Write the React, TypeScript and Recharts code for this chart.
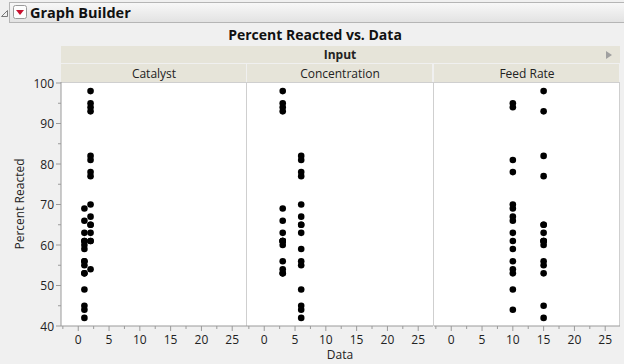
import React from 'react';
import { ScatterChart, Scatter, XAxis, YAxis } from 'recharts';

const feedRate = [10, 15, 10, 15, 10, 15, 10, 15, 10, 15, 10, 15, 10, 15, 10, 15, 10, 15, 10, 15, 10, 15, 10, 15, 10, 15, 10, 15, 10, 15, 10, 15];
const catalyst = [1, 1, 2, 2, 1, 1, 2, 2, 1, 1, 2, 2, 1, 1, 2, 2, 1, 1, 2, 2, 1, 1, 2, 2, 1, 1, 2, 2, 1, 1, 2, 2];
const concentration = [3, 3, 3, 3, 3, 3, 3, 3, 3, 3, 3, 3, 3, 3, 3, 3, 6, 6, 6, 6, 6, 6, 6, 6, 6, 6, 6, 6, 6, 6, 6, 6];
const percentReacted = [61, 53, 63, 61, 53, 56, 54, 61, 69, 61, 94, 93, 66, 60, 95, 98, 56, 63, 70, 65, 59, 55, 67, 65, 44, 45, 78, 77, 49, 42, 81, 82];

const panelNames = ['Catalyst', 'Concentration', 'Feed Rate'];
const xTicks = [-2.5, 0, 2.5, 5, 7.5, 10, 12.5, 15, 17.5, 20, 22.5, 25];
const xLabelTicks = [0, 5, 10, 15, 20, 25];
const yTicks = [40, 45, 50, 55, 60, 65, 70, 75, 80, 85, 90, 95, 100];
const yLabelTicks = [40, 50, 60, 70, 80, 90, 100];

const title = 'Percent Reacted vs. Data';
const groupLabel = 'Input';
const xLabel = 'Data';
const yLabel = 'Percent Reacted';

const FONT = "'Segoe UI', 'Open Sans', 'Noto Sans', sans-serif";
const TEXT = '#222';
const AXIS = '#9a9a9a';
const STRIP = '#e6e4d9';
const BORDER = '#cfcfcf';

const series = [catalyst, concentration, feedRate].map((xs) =>
  xs.map((x, i) => ({ x, y: percentReacted[i] }))
);

const TOP_PAD = 12;
const CHART_TOP = 82 - TOP_PAD;
const CHART_H = 282 + TOP_PAD;
const X_AXIS_H = 38;
const Y_AXIS_W = 61;
const panelBoxes = [
  { left: 0, width: 247, yAxis: true },
  { left: 247, width: 186, yAxis: false },
  { left: 434, width: 186, yAxis: false },
];
const plotRects = [
  { x: 61, w: 186 },
  { x: 247, w: 186 },
  { x: 434, w: 186 },
];

const Dot = (p: any) => <circle cx={p.cx} cy={p.cy} r={3.3} fill="#000" />;

const XTick = (p: any) => {
  const { x, y, payload } = p;
  const v = payload.value;
  const major = xLabelTicks.includes(v);
  return (
    <g>
      <line x1={x} x2={x} y1={y} y2={y + (major ? 5 : 3)} stroke={AXIS} />
      {major && (
        <text x={x} y={y + 18} textAnchor="middle" fontSize={12} fill={TEXT} fontFamily={FONT}>
          {v}
        </text>
      )}
    </g>
  );
};

const YTick = (p: any) => {
  const { x, y, payload } = p;
  const v = payload.value;
  const major = yLabelTicks.includes(v);
  return (
    <g>
      <line x1={x - (major ? 5 : 3)} x2={x} y1={y} y2={y} stroke={AXIS} />
      {major && (
        <text x={x - 7} y={y + 4.5} textAnchor="end" fontSize={12} fill={TEXT} fontFamily={FONT}>
          {v}
        </text>
      )}
    </g>
  );
};

export default function App() {
  return (
    <div style={{ position: 'absolute', left: 0, top: 0, width: 624, height: 364, background: '#f0f0f0', overflow: 'hidden', fontFamily: FONT }}>
      <svg width={624} height={364} style={{ position: 'absolute', left: 0, top: 0 }}>
        <defs>
          <linearGradient id="hdr" x1="0" y1="0" x2="0" y2="1">
            <stop offset="0" stopColor="#f8f8f8" />
            <stop offset="1" stopColor="#e2e2e2" />
          </linearGradient>
        </defs>
        <rect x={9.5} y={2.5} width={620} height={20} fill="url(#hdr)" stroke="#b5b5b5" />
        <path d="M1.5 16.5 L7.5 10.5 L7.5 16.5 Z" fill="none" stroke="#7a7a7a" />
        <rect x={13.5} y={5.5} width={13} height={13} rx={2} fill="#fdfdfd" stroke="#9a9a9a" />
        <path d="M16 10 L24 10 L20 15 Z" fill="#c8102e" />
        <text x={30} y={17.5} fontWeight="bold" fontSize={14.5} fill="#111" fontFamily={FONT}>Graph Builder</text>
        <text x={315} y={39.5} textAnchor="middle" fontWeight="bold" fontSize={14} fill="#111" fontFamily={FONT}>{title}</text>

        <rect x={61} y={46} width={559} height={17} fill={STRIP} />
        <text x={340} y={59} textAnchor="middle" fontWeight="bold" fontSize={12} fill={TEXT} fontFamily={FONT}>{groupLabel}</text>
        <path d="M606 51 L612 55 L606 59 Z" fill="#a0a0a0" />
        {plotRects.map((r, i) => (
          <g key={i}>
            <rect x={r.x} y={64} width={r.w - 1} height={18} fill={STRIP} />
            <text x={r.x + r.w / 2} y={77.5} textAnchor="middle" fontSize={12} fill={TEXT} fontFamily={FONT}>{panelNames[i]}</text>
            <rect x={r.x} y={82} width={r.w} height={244} fill="#fff" />
          </g>
        ))}
        <line x1={246.5} x2={246.5} y1={82} y2={326} stroke={BORDER} />
        <line x1={433.5} x2={433.5} y1={82} y2={326} stroke={BORDER} />
        <line x1={619.5} x2={619.5} y1={82} y2={326} stroke={BORDER} />
        <line x1={61} x2={620} y1={82.5} y2={82.5} stroke={BORDER} />
        <text x={340} y={359} textAnchor="middle" fontSize={12} fill={TEXT} fontFamily={FONT}>{xLabel}</text>
        <text x={0} y={0} transform="translate(24 204) rotate(-90)" textAnchor="middle" fontSize={12} fill={TEXT} fontFamily={FONT}>{yLabel}</text>
      </svg>
      {panelBoxes.map((b, i) => (
        <div key={i} style={{ position: 'absolute', left: b.left, top: CHART_TOP }}>
          <ScatterChart width={b.width} height={CHART_H} margin={{ top: TOP_PAD, right: 0, bottom: 0, left: 0 }}>
            <XAxis
              type="number"
              dataKey="x"
              domain={[-2.8, 27.4]}
              ticks={xTicks}
              interval={0}
              height={X_AXIS_H}
              tickSize={0}
              tickMargin={0}
              tickLine={false}
              tick={<XTick />}
              axisLine={{ stroke: AXIS }}
              allowDataOverflow
            />
            <YAxis
              type="number"
              dataKey="y"
              domain={[40, 100.25]}
              ticks={yTicks}
              interval={0}
              width={Y_AXIS_W}
              hide={!b.yAxis}
              tickSize={0}
              tickMargin={0}
              tickLine={false}
              tick={<YTick />}
              axisLine={{ stroke: AXIS }}
              allowDataOverflow
            />
            <Scatter data={series[i]} shape={<Dot />} isAnimationActive={false} />
          </ScatterChart>
        </div>
      ))}
    </div>
  );
}
